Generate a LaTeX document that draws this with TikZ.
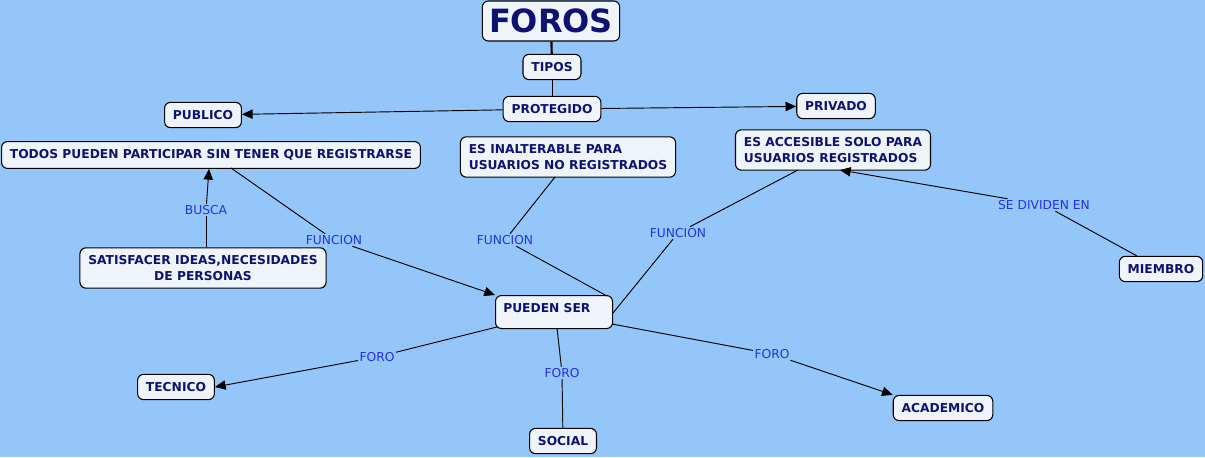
\documentclass[tikz,border=0pt]{standalone}
\usepackage{fontspec}
\setmainfont{DejaVu Sans}
\usetikzlibrary{arrows.meta}
\definecolor{bgblue}{RGB}{148,198,250}
\definecolor{boxfill}{RGB}{238,244,248}
\definecolor{boxtext}{RGB}{14,18,112}
\definecolor{lbltext}{RGB}{36,48,225}
\begin{document}
\begin{tikzpicture}[x=0.75pt,y=-0.75pt,
  box/.style={draw=black,line width=0.8pt,fill=boxfill,rounded corners=4.5pt,
    text=boxtext,font=\fontsize{9.2}{11.3}\selectfont\bfseries,inner xsep=6.3pt,inner ysep=6pt},
  lbl/.style={text=lbltext,font=\fontsize{9.2}{11}\selectfont,inner sep=1pt},
  conn/.style={line width=0.7pt,draw=black},
  arr/.style={conn,-{Triangle[length=8pt,width=7pt]}}]
\fill[bgblue] (0,0) rectangle (1205,457);
\useasboundingbox (0,0) rectangle (1205,457);
% nodes
\node[box,font=\fontsize{24}{28}\selectfont\bfseries,inner xsep=5pt,inner ysep=3pt,minimum width=103pt,minimum height=30pt] (foros) at (551,21) {FOROS};
\node[box] (tipos) at (552,67) {TIPOS};
\node[box] (prot) at (552,109) {PROTEGIDO};
\node[box] (publico) at (203,115) {PUBLICO};
\node[box] (privado) at (836,106) {PRIVADO};
\node[box] (todos) at (211,155) {TODOS PUEDEN PARTICIPAR SIN TENER QUE REGISTRARSE};
\node[box,align=left] (inalt) at (568,157) {ES INALTERABLE PARA\\USUARIOS NO REGISTRADOS};
\node[box,align=left] (acces) at (833,150) {ES ACCESIBLE SOLO PARA\\USUARIOS REGISTRADOS};
\node[box,align=center] (satis) at (203,268) {SATISFACER IDEAS,NECESIDADES\\DE PERSONAS};
\node[box,minimum height=24.75pt,minimum width=87.75pt,anchor=north west] (pueden) at (495,295) {};
\node[text=boxtext,font=\fontsize{9.2}{11.3}\selectfont\bfseries,anchor=west,inner sep=0pt] (puedentxt) at (503,308) {PUEDEN SER};
\node[box] (miembro) at (1161,269) {MIEMBRO};
\node[box] (tecnico) at (176,387) {TECNICO};
\node[box] (social) at (563,441) {SOCIAL};
\node[box] (academico) at (943,408) {ACADEMICO};
% labels
\node[lbl] (busca) at (206,210) {BUSCA};
\node[lbl] (f1) at (334,240) {FUNCION};
\node[lbl] (f2) at (505,240) {FUNCION};
\node[lbl] (f3) at (678,233) {FUNCION};
\node[lbl] (sediv) at (1044,205) {SE DIVIDEN EN};
\node[lbl] (foro1) at (377,357) {FORO};
\node[lbl] (foro2) at (562,373) {FORO};
\node[lbl] (foro3) at (772,354) {FORO};
% connectors
\draw[conn,line width=1.6pt] (foros) -- (tipos);
\draw[conn] (tipos) -- (prot);
\draw[arr] (prot) -- (publico);
\draw[arr] (prot) -- (privado);
\draw[conn] (satis.north -| busca) -- (busca);
\draw[arr] (busca) -- (todos.south -| 209,0);
\draw[conn] (231,168) coordinate (t1) -- (f1);
\draw[arr] (f1) -- (pueden.north west);
\draw[conn] (555,177) coordinate (i1) -- (f2);
\draw[conn] (f2) -- (607,296) coordinate (p1);
\draw[conn] (798,170) coordinate (a1) -- (f3);
\draw[conn] (f3) -- (613,313) coordinate (p2);
\draw[conn] (miembro.north west) ++(18,0) coordinate (m1) -- (sediv);
\draw[arr] (sediv) -- (840,170) coordinate (a2);
\draw[conn] (497,327) coordinate (p3) -- (foro1);
\draw[arr] (foro1) -- (tecnico.east);
\draw[conn] (557,328) coordinate (p4) -- (foro2);
\draw[conn] (foro2) -- (social);
\draw[conn] (612,324) coordinate (p5) -- (foro3);
\draw[arr] (foro3) -- (academico.north west);
\end{tikzpicture}
\end{document}
